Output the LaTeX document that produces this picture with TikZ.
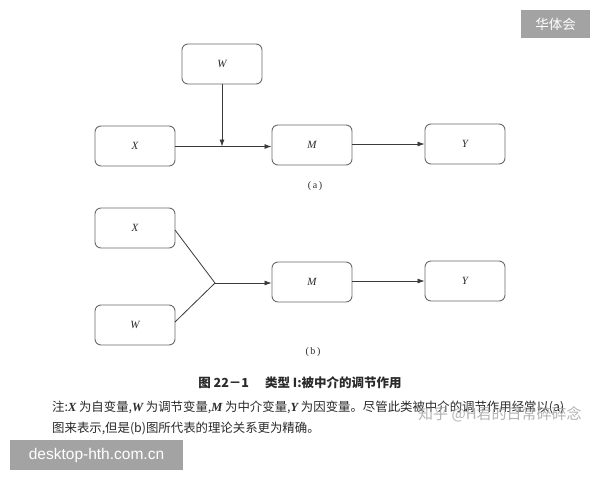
\documentclass[tikz,border=0pt]{standalone}
\usepackage{fontspec}
\setmainfont{Liberation Serif}
\newfontfamily\cjk{Noto Sans CJK SC}
\newfontfamily\wsans{Liberation Sans}
\newcommand{\lv}[1]{{\rmfamily\itshape\bfseries #1}}
\usetikzlibrary{arrows.meta}
\definecolor{boxline}{HTML}{6A6A6A}
\definecolor{lineclr}{HTML}{3A3A3A}
\definecolor{tagbg}{HTML}{A3A3A3}
\definecolor{txt}{HTML}{2A2A2A}
\tikzset{
  var/.style={draw=boxline, line width=0.9pt, rounded corners=6pt, minimum width=80pt, minimum height=40pt, inner sep=0pt, font=\fontsize{11}{11}\selectfont\itshape, text=txt},
  conn/.style={draw=lineclr, line width=0.8pt},
  arr/.style={conn, -{Latex[length=7pt,width=5pt]}},
  sub/.style={font=\fontsize{10}{10}\selectfont, text=txt},
  note/.style={font=\cjk\fontsize{12.4}{12.4}\selectfont, text=txt, anchor=west, inner sep=0pt},
}
\begin{document}
\begin{tikzpicture}[x=1pt,y=-1pt]
\useasboundingbox[fill=white] (0,0) rectangle (600,480);
% (a)
\node[var] (Wa) at (222,64) {W};
\node[var] (Xa) at (135,146) {X};
\node[var] (Ma) at (312,145) {M};
\node[var] (Ya) at (465,144) {Y};
\coordinate (Ja) at (222,146.5);
\draw[conn] (Xa.east |- Ja) -- (Ja);
\draw[arr] (Ja) -- (Ma.west |- Ja);
\draw[arr] (Wa.south) -- (Ja);
\draw[arr] (Ma.east |- Ya) -- (Ya.west);
\node[sub] (la) at (315,186) {(\,a\,)};
% (b)
\node[var] (Xb) at (135,228) {X};
\node[var] (Wb) at (135,325) {W};
\node[var] (Mb) at (312,282) {M};
\node[var] (Yb) at (465,281) {Y};
\coordinate (Jb) at (215,283);
\draw[conn] (175,230) -- (Jb) -- (175,322);
\draw[arr] (Jb) -- (Mb.west |- Jb);
\draw[arr] (Mb.east |- Yb) -- (Yb.west);
\node[sub] (lb) at (313,352) {(\,b\,)};
% caption
\node[font=\cjk\bfseries\fontsize{12.5}{12.5}\selectfont, text=txt] (cap) at (300,383) {图 22－1\hspace{16pt}类型 I:被中介的调节作用};
\node[note] (n1) at (52,407) {注:\lv{X} 为自变量,\lv{W} 为调节变量,\lv{M} 为中介变量,\lv{Y} 为因变量。尽管此类被中介的调节作用经常以(a)};
\node[note] (n2) at (52,428) {图来表示,但是(b)图所代表的理论关系更为精确。};
% watermark
\node[font=\cjk\fontsize{15}{15}\selectfont, text=gray!70, opacity=0.85, anchor=west, inner sep=0pt] (wm) at (418,414) {知乎 @H君的日常碎碎念};
% tags
\fill[tagbg] (521,10) rectangle (590,38);
\node[font=\cjk\fontsize{13.5}{13.5}\selectfont, text=white] (t1) at (555.5,24) {华体会};
\fill[tagbg] (10,440) rectangle (183,470);
\node[font=\wsans\fontsize{15.5}{15.5}\selectfont, text=white] (t2) at (96.5,455) {desktop-hth.com.cn};
\end{tikzpicture}
\end{document}
